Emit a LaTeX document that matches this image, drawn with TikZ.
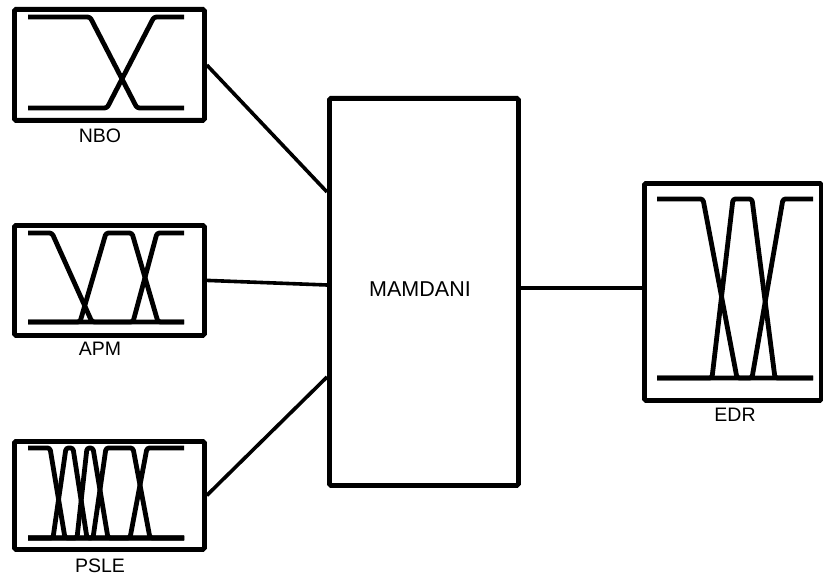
\documentclass[tikz,border=0pt]{standalone}
\usepackage{fontspec}
\setmainfont{Liberation Sans}
\begin{document}
\begin{tikzpicture}[x=1pt,y=-1pt,
  blockbox/.style={draw,line width=4.8pt,rounded corners=1.5pt,inner sep=0pt,anchor=north west},
  mf/.style={line width=4.8pt,rounded corners=2.5pt,line join=round},
  conn/.style={line width=3.6pt},
  lbl/.style={font=\fontsize{19.5}{21}\selectfont,inner sep=0pt}]
\useasboundingbox (0,0) rectangle (823,578);
% boxes
\node[blockbox,minimum width=190pt,minimum height=111pt] (nbo) at (12,7) {};
\node[blockbox,minimum width=190pt,minimum height=110pt] (apm) at (12,223) {};
\node[blockbox,minimum width=190pt,minimum height=108pt] (psle) at (12,439) {};
\node[blockbox,minimum width=177pt,minimum height=217pt] (edr) at (642,181) {};
\node[blockbox,minimum width=189pt,minimum height=387pt] (mam) at (327,96) {};
\node[lbl,font=\fontsize{21.5}{23}\selectfont] (mamt) at (420,289) {MAMDANI};
% labels
\node[lbl] (nbol) at (100,136) {NBO};
\node[lbl] (apml) at (100,349) {APM};
\node[lbl] (pslel) at (100,566) {PSLE};
\node[lbl] (edrl) at (735,415) {EDR};
% NBO membership functions
\draw[mf] (28,17) -- (90,17) -- (137,108) -- (184,108);
\draw[mf] (28,108) -- (107,108) -- (154,17) -- (184,17);
% APM membership functions
\draw[mf] (28,233) -- (52,233) -- (92,322) -- (184,322);
\draw[mf] (28,322) -- (80,322) -- (106,233) -- (132,233) -- (158,322) -- (184,322);
\draw[mf] (28,322) -- (133,322) -- (157,233) -- (184,233);
% PSLE membership functions
\draw[mf] (28,448) -- (50,448) -- (65,538) -- (184,538);
\draw[mf] (28,538) -- (53,538) -- (66,448) -- (73,448) -- (87,538) -- (184,538);
\draw[mf] (28,538) -- (77,538) -- (87,448) -- (93,448) -- (108,538) -- (184,538);
\draw[mf] (28,538) -- (93,538) -- (106,448) -- (133,448) -- (150,538) -- (184,538);
\draw[mf] (28,538) -- (130,538) -- (147,448) -- (184,448);
% EDR membership functions
\draw[mf] (657,199) -- (703,199) -- (737,378) -- (813,378);
\draw[mf] (657,378) -- (712,378) -- (733,199) -- (752,199) -- (775,378) -- (813,378);
\draw[mf] (657,378) -- (752,378) -- (783,199) -- (813,199);
% connectors
\coordinate (m1) at (mam.west |- 0,192);
\coordinate (m2) at (mam.west |- 0,285);
\coordinate (m3) at (mam.west |- 0,377);
\coordinate (n1) at (nbo.east |- 0,65);
\draw[conn] (n1) -- (m1);
\draw[conn] (apm.east) -- (m2);
\draw[conn] (psle.east) -- (m3);
\draw[conn] (mam.east |- 0,288) -- (edr.west |- 0,288);
\end{tikzpicture}
\end{document}
